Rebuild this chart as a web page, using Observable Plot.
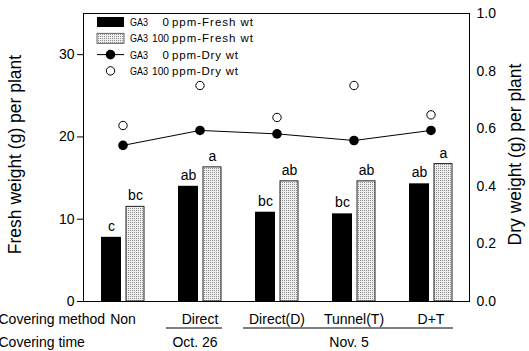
<!DOCTYPE html>
<html>
<head>
<meta charset="utf-8">
<script src="https://cdn.jsdelivr.net/npm/d3@7"></script>
<script src="https://cdn.jsdelivr.net/npm/@observablehq/plot@0.6"></script>
<style>
  html, body { margin: 0; padding: 0; background: #fff; }
  #chart { width: 529px; height: 351px; overflow: hidden; }
  svg { font-family: "Liberation Sans", Arial, sans-serif; }
</style>
</head>
<body>
<div id="chart"></div>
<script>
// ---- data ----
const groups = ["Non", "Direct", "Direct(D)", "Tunnel(T)", "D+T"];
const fresh0 = [7.8, 14.0, 10.85, 10.65, 14.3];
const fresh100 = [11.5, 16.3, 14.6, 14.6, 16.7];
const dry0 = [0.542, 0.594, 0.582, 0.559, 0.594];
const dry100 = [0.611, 0.75, 0.639, 0.75, 0.648];
const letters0 = ["c", "ab", "bc", "bc", "ab"];
const letters100 = ["bc", "a", "ab", "ab", "a"];
const freshTicks = [0, 10, 20, 30];
const dryTicks = [0, 0.2, 0.4, 0.6, 0.8, 1.0];
const freshMax = 35;
const dryMax = 1.0;
const coveringTimes = [
  {label: "Oct. 26", from: "Direct", to: "Direct", center: "Direct"},
  {label: "Nov. 5", from: "Direct(D)", to: "D+T", center: "Tunnel(T)"}
];
const rowLabels = ["Covering method", "Covering time"];
const legendItems = [
  {ga: "0", text: "ppm-Fresh wt", kind: "bar0"},
  {ga: "100", text: "ppm-Fresh wt", kind: "bar100"},
  {ga: "0", text: "ppm-Dry wt", kind: "dot0"},
  {ga: "100", text: "ppm-Dry wt", kind: "dot100"}
];

const k = freshMax / dryMax;
const rows = groups.map((g, i) => ({
  group: g, f0: fresh0[i], f100: fresh100[i],
  d0: dry0[i] * k, d100: dry100[i] * k,
  l0: letters0[i], l100: letters100[i]
}));

const plot = Plot.plot({
  width: 529,
  height: 351,
  marginLeft: 83,
  marginRight: 60,
  marginTop: 13,
  marginBottom: 50,
  style: {fontFamily: "Liberation Sans, Arial, sans-serif", fontSize: "14px", color: "black", overflow: "visible"},
  x: {domain: groups, padding: 0, axis: null},
  y: {domain: [0, freshMax], axis: null},
  marks: [
    Plot.barY(rows, {x: "group", y: "f0", fill: "black", insetLeft: 17, insetRight: 40}),
    Plot.barY(rows, {x: "group", y: "f100", fill: "url(#stipple)", stroke: "#222", strokeWidth: 1, insetLeft: 42, insetRight: 17}),
    Plot.text(rows, {x: "group", y: "f0", text: "l0", dx: -11.5, dy: -11, fontSize: 14, fill: "black"}),
    Plot.text(rows, {x: "group", y: "f100", text: "l100", dx: 12.5, dy: -11, fontSize: 14, fill: "black"}),
    Plot.line(rows, {x: "group", y: "d0", stroke: "black", strokeWidth: 1}),
    Plot.dot(rows, {x: "group", y: "d0", r: 4.8, fill: "black"}),
    Plot.dot(rows, {x: "group", y: "d100", r: 4.2, fill: "white", stroke: "black", strokeWidth: 1}),
    Plot.frame({stroke: "black", strokeWidth: 1}),
    Plot.axisY({anchor: "left", ticks: freshTicks, tickSize: 6, tickPadding: 3, fontSize: 14, label: null}),
    Plot.axisY({anchor: "right", ticks: dryTicks.map(d => d * k), tickFormat: d => (d / k).toFixed(1), tickSize: 0, tickPadding: 7, fontSize: 14, label: null}),
    Plot.text(groups, {x: d => d, text: d => d, frameAnchor: "bottom", lineAnchor: "middle", textAnchor: "middle", dy: 18, fontSize: 14, fill: "black"}),
    Plot.text(coveringTimes, {x: "center", text: "label", frameAnchor: "bottom", lineAnchor: "middle", textAnchor: "middle", dy: 41, dx: -5, fontSize: 14, fill: "black"}),
    Plot.text([rowLabels[0]], {text: d => d, frameAnchor: "bottom-left", textAnchor: "start", lineAnchor: "middle", dx: -85, dy: 18, fontSize: 14, fill: "black"}),
    Plot.text([rowLabels[1]], {text: d => d, frameAnchor: "bottom-left", textAnchor: "start", lineAnchor: "middle", dx: -85, dy: 41, fontSize: 14, fill: "black"}),
    Plot.text(["Fresh weight (g) per plant"], {text: d => d, frameAnchor: "left", textAnchor: "middle", lineAnchor: "middle", dx: -68, dy: -3, rotate: -90, fontSize: 17.5, fill: "black"}),
    Plot.text(["Dry weight (g) per plant"], {text: d => d, frameAnchor: "right", textAnchor: "middle", lineAnchor: "middle", dx: 46, dy: -3, rotate: -90, fontSize: 17.5, fill: "black"})
  ]
});

document.getElementById("chart").appendChild(plot);

const svg = d3.select(plot);
// stipple pattern
const defs = svg.insert("defs", ":first-child");
const pat = defs.append("pattern").attr("id", "stipple").attr("patternUnits", "userSpaceOnUse")
  .attr("width", 2).attr("height", 2);
pat.append("rect").attr("width", 2).attr("height", 2).attr("fill", "#efefef");
pat.append("rect").attr("width", 1).attr("height", 1).attr("fill", "#8f8f8f");

// underlines for covering method groups
const xs = plot.scale("x");
const ys = plot.scale("y");
const bw = xs.bandwidth;
const y0 = ys.apply(0);
coveringTimes.forEach(c => {
  const xa = xs.apply(c.from) + 5;
  const xb = xs.apply(c.to) + bw - 16;
  svg.append("line").attr("x1", xa).attr("x2", xb).attr("y1", y0 + 27).attr("y2", y0 + 27)
    .attr("stroke", "black").attr("stroke-width", 1.2);
});

// legend
const lg = svg.append("g").attr("font-family", "Liberation Sans, Arial, sans-serif")
  .attr("font-size", 11.5).attr("text-anchor", "start");
const lx = xs.apply(groups[0]) + 13;
legendItems.forEach((it, i) => {
  const cy = ys.apply(freshMax) + 9 + i * 16.3;
  if (it.kind === "bar0") lg.append("rect").attr("x", lx).attr("y", cy - 5).attr("width", 27).attr("height", 10).attr("fill", "black");
  if (it.kind === "bar100") lg.append("rect").attr("x", lx).attr("y", cy - 5).attr("width", 27).attr("height", 10).attr("fill", "url(#stipple)").attr("stroke", "#444").attr("stroke-width", 0.8);
  if (it.kind === "dot0") {
    lg.append("line").attr("x1", lx).attr("x2", lx + 27).attr("y1", cy).attr("y2", cy).attr("stroke", "black");
    lg.append("circle").attr("cx", lx + 13.5).attr("cy", cy).attr("r", 4.8).attr("fill", "black");
  }
  if (it.kind === "dot100") lg.append("circle").attr("cx", lx + 13.5).attr("cy", cy).attr("r", 4.2).attr("fill", "white").attr("stroke", "black");
  lg.append("text").attr("x", lx + 33).attr("y", cy).attr("dy", "0.35em").attr("text-anchor", "start")
    .attr("textLength", 18).attr("lengthAdjust", "spacingAndGlyphs").text("GA3");
  const num = lg.append("text").attr("x", lx + 72).attr("y", cy).attr("dy", "0.35em").attr("text-anchor", "end").text(it.ga);
  if (it.ga.length > 1) num.attr("textLength", 17).attr("lengthAdjust", "spacingAndGlyphs");
  lg.append("text").attr("x", lx + 75).attr("y", cy).attr("dy", "0.35em").attr("text-anchor", "start")
    .attr("textLength", it.text.includes("Fresh") ? 81 : 66).attr("lengthAdjust", "spacing").text(it.text);
});
</script>
</body>
</html>
